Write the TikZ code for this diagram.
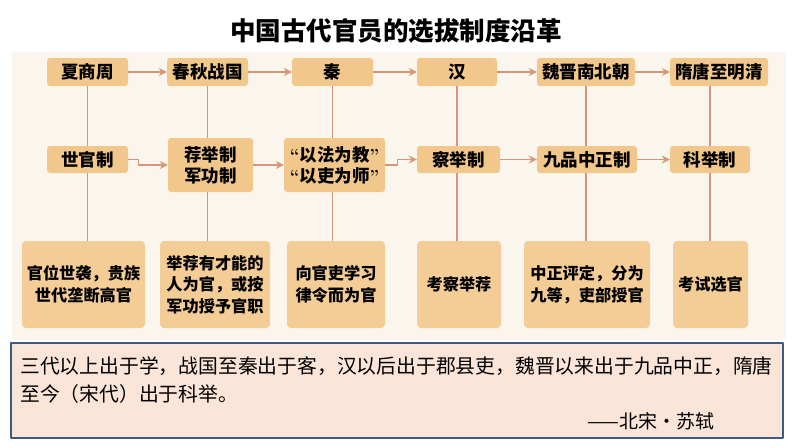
\documentclass[tikz,border=0pt]{standalone}
\usepackage{fontspec}
\newfontfamily\cjk{Noto Sans CJK SC}
\usetikzlibrary{positioning}
\usetikzlibrary{arrows.meta}
\definecolor{boxtan}{RGB}{242,199,140}
\definecolor{boxlight}{RGB}{243,204,150}
\definecolor{linktan}{RGB}{214,150,120}
\definecolor{cream}{RGB}{251,246,237}
\definecolor{quotepink}{RGB}{251,228,216}
\definecolor{quoteblue}{RGB}{62,90,128}
\newcommand\quoted[1]{{\normalfont\bfseries``}#1{\normalfont\bfseries''}}

\begin{document}
\begin{tikzpicture}[x=1pt, y=-1pt, line join=round,
    era/.style={fill=boxtan, rounded corners=3pt, minimum height=28pt, inner sep=0pt,
      font=\cjk\bfseries\fontsize{17.5}{21}\selectfont},
    system/.style={era, align=center},
    detail/.style={fill=boxlight, rounded corners=4pt, minimum height=87pt, inner sep=0pt,
      align=center, font=\cjk\bfseries\fontsize{16.2}{21.5}\selectfont},
    link/.style={draw=linktan, line width=1.1pt},
    flow/.style={link, -{Stealth[length=8pt,width=8pt]}}]
  \useasboundingbox (0,0) rectangle (794,447);
  \fill[cream] (12,52) rectangle (786,340);

  % title
  \node (title) at (396,31) {\cjk\bfseries\fontsize{25.5}{30}\selectfont 中国古代官员的选拔制度沿革};

  % dynasties
  \node[era, minimum width=81pt] (a1) at (87.5,72) {夏商周};
  \node[era, minimum width=81pt] (a2) at (207.5,72) {春秋战国};
  \node[era, minimum width=81pt] (a3) at (332.5,72) {秦};
  \node[era, minimum width=80pt] (a4) at (457,72) {汉};
  \node[era, minimum width=98pt] (a5) at (586,72) {魏晋南北朝};
  \node[era, minimum width=98pt] (a6) at (719,72) {隋唐至明清};

  % systems
  \node[system, minimum width=81pt, minimum height=27pt] (b1) at (87.5,159.5) {世官制};
  \node[system, minimum width=85pt, minimum height=54pt] (b2) at (210.5,165) {荐举制\\军功制};
  \node[system, minimum width=101pt, minimum height=54pt] (b3) at (334.5,165) {\quoted{以法为教}\\\quoted{以吏为师}};
  \node[system, minimum width=83pt, minimum height=27pt] (b4) at (458.5,159.5) {察举制};
  \node[system, minimum width=100pt, minimum height=27pt] (b5) at (587,159.5) {九品中正制};
  \node[system, minimum width=80pt, minimum height=27pt] (b6) at (710,159.5) {科举制};

  % details
  \node[detail, minimum width=123pt] (c1) at (83.5,284.5) {官位世袭，贵族\\世代垄断高官};
  \node[detail, minimum width=110pt] (c2) at (215,284.5) {举荐有才能的\\人为官，或按\\军功授予官职};
  \node[detail, minimum width=98pt] (c3) at (336,284.5) {向官吏学习\\律令而为官};
  \node[detail, minimum width=84pt] (c4) at (459,284.5) {考察举荐};
  \node[detail, minimum width=126pt] (c5) at (587,284.5) {中正评定，分为\\九等，吏部授官};
  \node[detail, minimum width=75pt] (c6) at (710.5,284.5) {考试选官};

  % columns
  \foreach \i in {1,...,5}{
    \draw[link] (a\i) -- (a\i |- b\i.north);
    \draw[link] (a\i |- b\i.south) -- (a\i |- c\i.north);
  }
  \draw[link] (b6 |- a6.south) -- (b6);
  \draw[link] (b6) -- (b6 |- c6.north);

  % arrows
  \foreach \i/\j in {1/2,2/3,3/4,4/5,5/6}{
    \draw[flow] (a\i) -- (a\j);
  }
  \draw[flow] (b1.east) -- ++(10,0) |- (b2.west);
  \draw[flow] (b2) -- (b3);
  \draw[flow] (b3.east) -- ++(12,0) |- (b4.west);
  \draw[flow] (b4) -- (b5);
  \draw[flow] (b5) -- (b6);

  % quotation
  \draw[quoteblue, fill=quotepink, line width=1.2pt] (11,343) rectangle (783,438);
  \node[anchor=west, inner sep=0pt, font=\cjk\fontsize{19.8}{28}\selectfont] (q1) at (20,366)
    {三代以上出于学，战国至秦出于客，汉以后出于郡县吏，魏晋以来出于九品中正，隋唐};
  \node[anchor=west, inner sep=0pt, font=\cjk\fontsize{19.8}{28}\selectfont] (q2) at (20,394)
    {至今（宋代）出于科举。};
  \node[anchor=east, inner sep=0pt, font=\cjk\fontsize{19}{28}\selectfont] (q3) at (715,421)
    {——北宋·苏轼};
\end{tikzpicture}
\end{document}
